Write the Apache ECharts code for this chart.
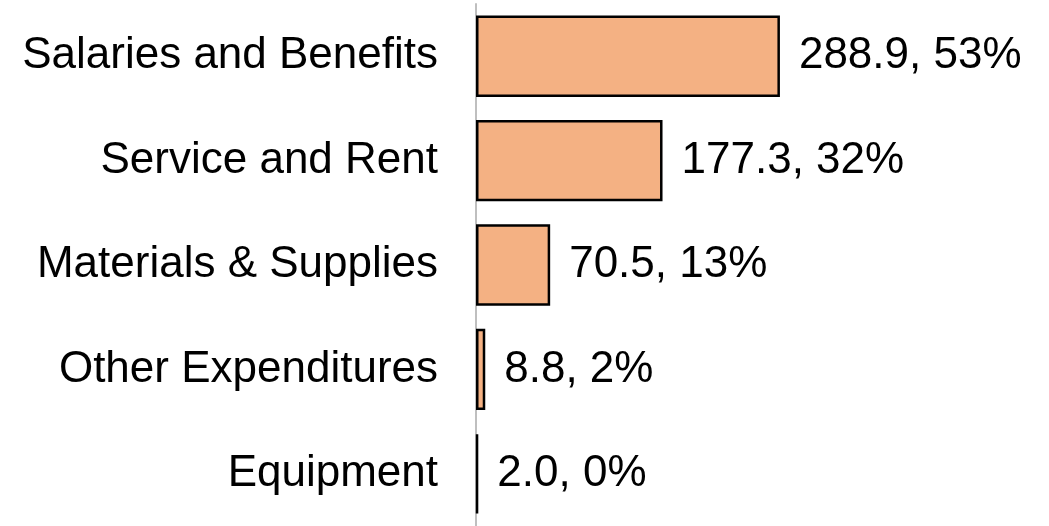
<!DOCTYPE html>
<html>
<head>
<meta charset="utf-8">
<script src="https://cdn.jsdelivr.net/npm/echarts@6/dist/echarts.min.js"></script>
<style>
  html, body { margin: 0; padding: 0; background: #fff; }
  #chart { width: 1049px; height: 526px; }
</style>
</head>
<body>
<div id="chart"></div>
<script>
// expense categories, top to bottom
const categories = ['Salaries and Benefits', 'Service and Rent', 'Materials & Supplies', 'Other Expenditures', 'Equipment'];
const amounts = [288.9, 177.3, 70.5, 8.8, 2.0];
const shares = [53, 32, 13, 2, 0];

const chart = echarts.init(document.getElementById('chart'));

chart.setOption({
  animation: false,
  grid: { left: 476, width: 526, top: 4, height: 527 },
  xAxis: {
    type: 'value',
    min: 0,
    max: 500,
    show: false
  },
  yAxis: {
    type: 'category',
    inverse: true,
    data: categories,
    axisLine: { show: true, lineStyle: { color: '#BFBFBF', width: 2 } },
    axisTick: { show: false },
    axisLabel: {
      margin: 38,
      fontFamily: 'Liberation Sans, Arial, sans-serif',
      fontSize: 44,
      color: '#000'
    }
  },
  series: [{
    type: 'bar',
    data: amounts,
    barCategoryGap: '22%',
    itemStyle: { color: '#F4B183', borderColor: '#000', borderWidth: 2.5 },
    label: {
      show: true,
      position: 'right',
      distance: 19,
      fontFamily: 'Liberation Sans, Arial, sans-serif',
      fontSize: 44,
      color: '#000',
      formatter: p => p.value.toFixed(1) + ', ' + shares[p.dataIndex] + '%'
    }
  }]
});
</script>
</body>
</html>
